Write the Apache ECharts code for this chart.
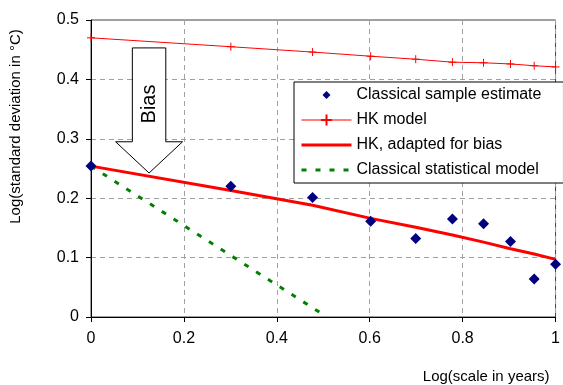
<!DOCTYPE html>
<html>
<head>
<meta charset="utf-8">
<script src="https://cdn.jsdelivr.net/npm/echarts@6/dist/echarts.min.js"></script>
<style>
  html, body { margin: 0; padding: 0; background: #fff; }
  #main { width: 563px; height: 385px; }
</style>
</head>
<body>
<div id="main"></div>
<script>
// log10 of the time scale (years)
const logScale = [0, 0.301, 0.477, 0.602, 0.699, 0.778, 0.845, 0.903, 0.954, 1];
const sampleEstimate = [0.254, 0.220, 0.201, 0.161, 0.132, 0.165, 0.157, 0.127, 0.064, 0.089];
const hkModel = [0.470, 0.455, 0.446, 0.439, 0.434, 0.429, 0.428, 0.426, 0.423, 0.421];
const hkAdapted = [0.254, 0.213, 0.188, 0.166, 0.151, 0.138, 0.126, 0.115, 0.106, 0.097];
const classicalX = [0, 0.301, 0.477, 0.508];
const classicalModel = [0.254, 0.1035, 0.0155, 0];

const pairs = (xs, ys) => xs.map((x, i) => [x, ys[i]]);
const font = "'Liberation Sans', Arial, sans-serif";

var chartDom = document.getElementById('main');
var myChart = echarts.init(chartDom, null, { renderer: 'canvas' });

var option = {
  animation: false,
  textStyle: { fontFamily: font },
  grid: {
    left: 87, right: 4, top: 20, bottom: 68,
    show: true, borderColor: '#404040', borderWidth: 1
  },
  legend: {
    orient: 'vertical',
    left: 294, top: 82,
    padding: [5, 22, 5, 6],
    itemWidth: 50, itemHeight: 14, itemGap: 9, itemTextGap: 4,
    backgroundColor: '#fff',
    borderColor: '#000', borderWidth: 1,
    borderRadius: 0,
    symbolKeepAspect: true,
    textStyle: { fontSize: 16, color: '#000', fontFamily: font, lineHeight: 16 },
    data: [
      { name: 'Classical sample estimate', icon: 'path://M0,0 M20,20 M10,4.3 L15.7,10 L10,15.7 L4.3,10 Z' },
      { name: 'HK model', lineStyle: { width: 1 } },
      { name: 'HK, adapted for bias', itemStyle: { opacity: 0 }, lineStyle: { width: 3 } },
      { name: 'Classical statistical model', itemStyle: { opacity: 0 }, lineStyle: { width: 3 } }
    ]
  },
  xAxis: {
    type: 'value', min: 0, max: 1, interval: 0.2,
    name: 'Log(scale in years)',
    nameLocation: 'end', nameGap: -6,
    nameTextStyle: { fontSize: 15, color: '#000', align: 'right', verticalAlign: 'top', padding: [52, 0, 0, 0] },
    axisLine: { lineStyle: { color: '#000', width: 1 } },
    axisTick: { show: true, length: 5, lineStyle: { color: '#000' } },
    axisLabel: { fontSize: 16, color: '#000', margin: 14 },
    splitLine: { show: true, lineStyle: { color: '#a0a0a0', type: [5, 4] } }
  },
  yAxis: {
    type: 'value', min: 0, max: 0.5, interval: 0.1,
    name: 'Log(standard deviation in °C)',
    nameLocation: 'middle', nameGap: 68,
    nameTextStyle: { fontSize: 15, color: '#000', padding: [0, 0, 0, 84] },
    axisLine: { show: true, lineStyle: { color: '#000', width: 1 } },
    axisTick: { show: true, length: 5, lineStyle: { color: '#000' } },
    axisLabel: { fontSize: 16, color: '#000', margin: 12 },
    splitLine: { show: true, lineStyle: { color: '#a0a0a0', type: [5, 4] } }
  },
  series: [
    {
      name: 'HK model', type: 'line', z: 2,
      data: pairs(logScale, hkModel),
      symbol: 'path://M0,5 L10,5 M5,0 L5,10', symbolSize: 8,
      itemStyle: { color: '#ff0000', borderColor: '#ff0000', borderWidth: 1 },
      lineStyle: { color: '#ff0000', width: 1 }
    },
    {
      name: 'HK, adapted for bias', type: 'line', z: 2,
      data: pairs(logScale, hkAdapted),
      symbol: 'none',
      itemStyle: { color: '#ff0000' },
      lineStyle: { color: '#ff0000', width: 3 }
    },
    {
      name: 'Classical statistical model', type: 'line', z: 2,
      data: pairs(classicalX, classicalModel),
      symbol: 'none',
      itemStyle: { color: '#008000' },
      lineStyle: { color: '#008000', width: 3, type: [5, 9] }
    },
    {
      name: 'Classical sample estimate', type: 'scatter', z: 3,
      data: pairs(logScale, sampleEstimate),
      symbol: 'diamond', symbolSize: [11, 11],
      itemStyle: { color: '#000080', opacity: 1 }
    }
  ]
};

myChart.setOption(option);

// "Bias" block arrow, placed in data units
const arrow = { left: 0.089, right: 0.161, headLeft: 0.053, headRight: 0.197, mid: 0.125, top: 0.453, headBase: 0.295, tip: 0.2424, textY: 0.3586 };
const px = (x, y) => myChart.convertToPixel({ gridIndex: 0 }, [x, y]);
const poly = [
  px(arrow.left, arrow.top), px(arrow.right, arrow.top), px(arrow.right, arrow.headBase),
  px(arrow.headRight, arrow.headBase), px(arrow.mid, arrow.tip), px(arrow.headLeft, arrow.headBase),
  px(arrow.left, arrow.headBase)
];
const textPos = px(arrow.mid, arrow.textY);

myChart.setOption({
  graphic: [
    {
      type: 'polygon', z: 10,
      shape: { points: poly },
      style: { fill: '#fff', stroke: '#000', lineWidth: 1 }
    },
    {
      type: 'text', z: 11,
      x: textPos[0], y: textPos[1], rotation: Math.PI / 2,
      style: { text: 'Bias', fontSize: 20, fontFamily: font, fill: '#000', align: 'center', verticalAlign: 'middle' }
    }
  ]
});
</script>
</body>
</html>
